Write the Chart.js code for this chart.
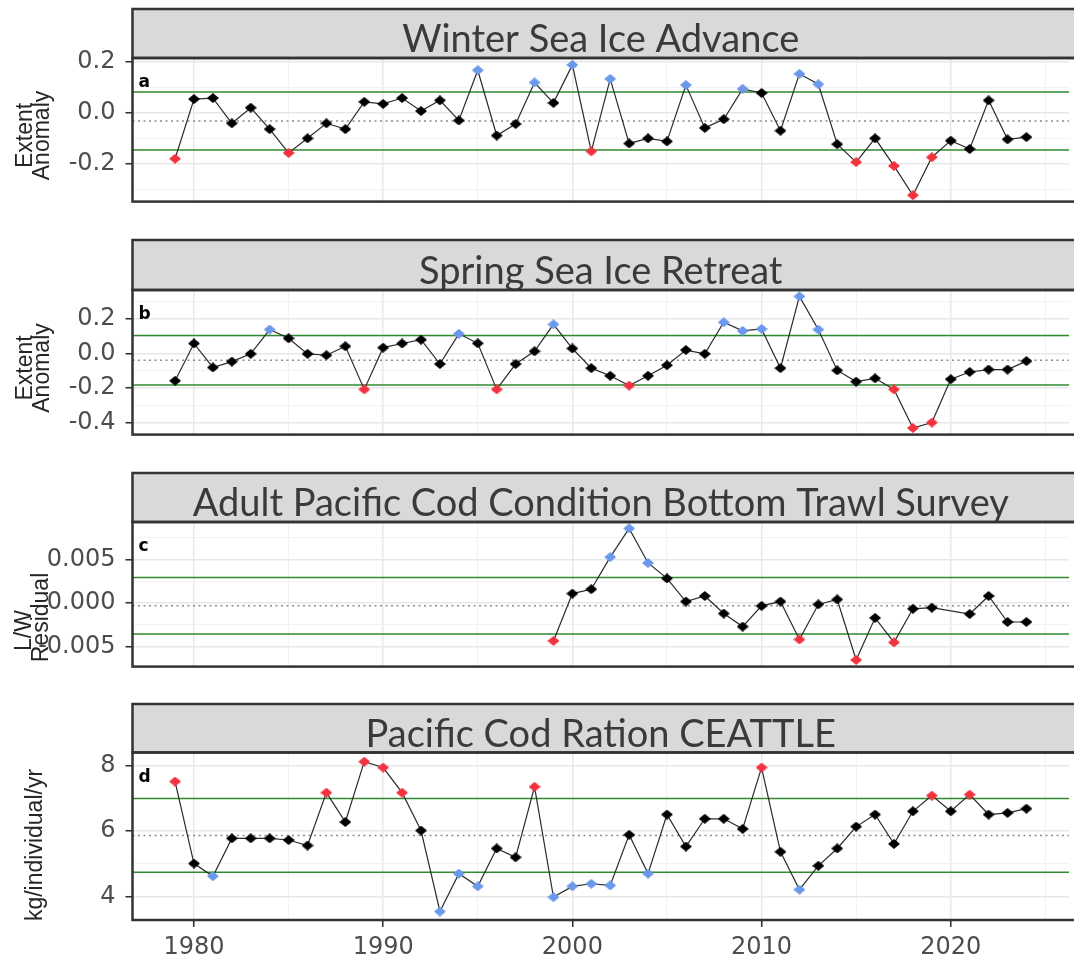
<!DOCTYPE html>
<html>
<head>
<meta charset="utf-8">
<script src="https://cdn.jsdelivr.net/npm/chart.js"></script>
<style>
  html, body { margin: 0; padding: 0; background: #ffffff; overflow: hidden; }
  #wrap { position: relative; width: 1074px; height: 960px; }
  #wrap canvas { position: absolute; left: 0; }
</style>
</head>
<body>
<div id="wrap"></div>
<script>
// ---- Survey years (one row per decade) ----
const years = [
  1979,
  1980, 1981, 1982, 1983, 1984, 1985, 1986, 1987, 1988, 1989,
  1990, 1991, 1992, 1993, 1994, 1995, 1996, 1997, 1998, 1999,
  2000, 2001, 2002, 2003, 2004, 2005, 2006, 2007, 2008, 2009,
  2010, 2011, 2012, 2013, 2014, 2015, 2016, 2017, 2018, 2019,
  2020, 2021, 2022, 2023, 2024
];
const yearTicks = [1980, 1990, 2000, 2010, 2020];

// ---- a: winter sea ice advance, extent anomaly ----
const winterAdvance = [
  -0.179,
  0.055, 0.059, -0.040, 0.021, -0.063, -0.156, -0.099, -0.040, -0.063, 0.044,
  0.036, 0.059, 0.008, 0.050, -0.029, 0.168, -0.088, -0.043, 0.120, 0.040,
  0.189, -0.150, 0.134, -0.119, -0.099, -0.111, 0.110, -0.058, -0.024, 0.095,
  0.079, -0.069, 0.154, 0.113, -0.122, -0.192, -0.099, -0.207, -0.322, -0.173,
  -0.108, -0.141, 0.050, -0.103, -0.094
];
const winterFlags = [
  'r',
  'k','k','k','k','k','r','k','k','k','k',
  'k','k','k','k','k','b','k','k','b','k',
  'b','r','b','k','k','k','b','k','k','b',
  'k','k','b','b','k','r','k','r','r','r',
  'k','k','k','k','k'
];
const winterMean = -0.031, winterSd = 0.114;
const winterTicks = [-0.2, 0.0, 0.2];

// ---- b: spring sea ice retreat, extent anomaly ----
const springRetreat = [
  -0.158,
  0.058, -0.081, -0.047, -0.002, 0.139, 0.088, -0.002, -0.010, 0.042, -0.208,
  0.034, 0.058, 0.080, -0.061, 0.114, 0.059, -0.208, -0.061, 0.013, 0.169,
  0.029, -0.085, -0.129, -0.186, -0.129, -0.068, 0.020, -0.002, 0.181, 0.131,
  0.142, -0.085, 0.331, 0.139, -0.098, -0.163, -0.144, -0.208, -0.432, -0.400,
  -0.149, -0.107, -0.093, -0.093, -0.044
];
const springFlags = [
  'k',
  'k','k','k','k','b','k','k','k','k','r',
  'k','k','k','k','b','k','r','k','k','b',
  'k','k','k','r','k','k','k','k','b','b',
  'b','k','b','b','k','k','k','r','r','r',
  'k','k','k','k','k'
];
const springMean = -0.039, springSd = 0.144;
const springTicks = [-0.4, -0.2, 0.0, 0.2];

// ---- c: adult Pacific cod condition (L/W residual), no survey in 2020 ----
const codCondition = [
  null,
  null, null, null, null, null, null, null, null, null, null,
  null, null, null, null, null, null, null, null, null, -0.00433,
  0.00109, 0.00159, 0.00527, 0.00855, 0.00460, 0.00283, 0.00018, 0.00082, -0.00119, -0.00269,
  -0.00032, 0.00018, -0.00416, -0.00015, 0.00042, -0.00651, -0.00169, -0.00450, -0.00065, -0.00052,
  null, -0.00125, 0.00082, -0.00216, -0.00216
];
const conditionFlags = [
  'k',
  'k','k','k','k','k','k','k','k','k','k',
  'k','k','k','k','k','k','k','k','k','r',
  'k','k','b','b','b','k','k','k','k','k',
  'k','k','r','k','k','r','k','r','k','k',
  'k','k','k','k','k'
];
const conditionMean = -0.0003, conditionSd = 0.00323;
const conditionTicks = [-0.005, 0.000, 0.005];

// ---- d: Pacific cod ration from CEATTLE, kg/individual/yr ----
const codRation = [
  7.52,
  5.01, 4.62, 5.78, 5.78, 5.78, 5.73, 5.56, 7.18, 6.28, 8.13,
  7.95, 7.18, 6.02, 3.54, 4.70, 4.31, 5.47, 5.20, 7.36, 3.98,
  4.31, 4.39, 4.34, 5.89, 4.70, 6.51, 5.53, 6.38, 6.38, 6.07,
  7.95, 5.37, 4.21, 4.94, 5.47, 6.14, 6.51, 5.61, 6.61, 7.09,
  6.61, 7.12, 6.51, 6.56, 6.69
];
const rationFlags = [
  'r',
  'k','b','k','k','k','k','k','r','k','r',
  'r','r','k','b','b','b','k','k','r','b',
  'b','b','b','k','b','k','k','k','k','k',
  'r','k','b','k','k','k','k','k','k','r',
  'k','r','k','k','k'
];
const rationMean = 5.87, rationSd = 1.13;
const rationTicks = [4, 6, 8];

// ---- styling ----
const POINT_COLORS = { k: '#000000', r: '#F2333F', b: '#6B98EA' };
const TICK_FONT = { family: "'DejaVu Sans', Verdana, sans-serif", size: 24 };
const TICK_COLOR = '#4D4D4D';
const STRIP_FONT = "38px Lato, 'Open Sans', sans-serif";
const FRAME = '#333333';
const PAGE_W = 1074;

// filled diamond markers, a little wider than tall
function diamond(color, w, h) {
  const c = document.createElement('canvas');
  c.width = w; c.height = h;
  const g = c.getContext('2d');
  g.fillStyle = color;
  g.beginPath();
  g.moveTo(w / 2, 0); g.lineTo(w, h / 2); g.lineTo(w / 2, h); g.lineTo(0, h / 2);
  g.closePath();
  g.fill();
  return c;
}
const DIAMONDS = {
  k: diamond(POINT_COLORS.k, 12, 10),
  r: diamond(POINT_COLORS.r, 12, 10),
  b: diamond(POINT_COLORS.b, 12, 10)
};

const panels = [
  { letter: 'a', title: 'Winter Sea Ice Advance', values: winterAdvance, flags: winterFlags,
    mean: winterMean, sd: winterSd, ticks: winterTicks, decimals: 1, step: 0.1,
    yMin: -0.347, yMax: 0.216,
    stripTop: 8.5, plotTop: 57.5, plotBottom: 221.5,
    yTitle: [{ text: 'Extent', x: 26, y: 135 }, { text: 'Anomaly', x: 43, y: 135 }] },
  { letter: 'b', title: 'Spring Sea Ice Retreat', values: springRetreat, flags: springFlags,
    mean: springMean, sd: springSd, ticks: springTicks, decimals: 1, step: 0.1,
    yMin: -0.470, yMax: 0.368,
    stripTop: 240, plotTop: 290, plotBottom: 455,
    yTitle: [{ text: 'Extent', x: 26, y: 368 }, { text: 'Anomaly', x: 43, y: 368 }] },
  { letter: 'c', title: 'Adult Pacific Cod Condition Bottom Trawl Survey', values: codCondition, flags: conditionFlags,
    mean: conditionMean, sd: conditionSd, ticks: conditionTicks, decimals: 3, step: 0.0025,
    yMin: -0.00727, yMax: 0.00929,
    stripTop: 472.5, plotTop: 521.5, plotBottom: 686.5,
    yTitle: [{ text: 'L/W', x: 25, y: 630 }, { text: 'Residual', x: 42, y: 617 }] },
  { letter: 'd', title: 'Pacific Cod Ration CEATTLE', values: codRation, flags: rationFlags,
    mean: rationMean, sd: rationSd, ticks: rationTicks, decimals: 0, step: 1,
    yMin: 3.28, yMax: 8.41,
    stripTop: 704, plotTop: 752.5, plotBottom: 920, xAxis: true,
    yTitle: [{ text: 'kg/individual/yr', x: 36, y: 845 }] }
];

function matchTick(list, v, tol) {
  for (const t of list) if (Math.abs(t - v) < tol) return t;
  return null;
}

function decorPlugin(p, canvasTop) {
  return {
    id: 'panelDecor',
    beforeDatasetsDraw(chart) {
      const { ctx, chartArea: a, scales: { y } } = chart;
      ctx.save();
      ctx.beginPath();
      ctx.rect(a.left, a.top, a.right - a.left, a.bottom - a.top);
      ctx.clip();
      // long-term mean (dotted) and +/- 1 SD (green)
      const ym = y.getPixelForValue(p.mean);
      ctx.strokeStyle = '#8A8A8A';
      ctx.lineWidth = 1.5;
      ctx.setLineDash([2, 3.5]);
      ctx.beginPath(); ctx.moveTo(a.left, ym); ctx.lineTo(a.right, ym); ctx.stroke();
      ctx.setLineDash([]);
      ctx.strokeStyle = '#2E8B2E';
      ctx.lineWidth = 1.5;
      for (const v of [p.mean + p.sd, p.mean - p.sd]) {
        const yy = y.getPixelForValue(v);
        ctx.beginPath(); ctx.moveTo(a.left, yy); ctx.lineTo(a.right, yy); ctx.stroke();
      }
      ctx.restore();
    },
    afterDraw(chart) {
      const { ctx, chartArea: a } = chart;
      const stripY = p.stripTop - canvasTop;
      ctx.save();
      // facet strip
      ctx.fillStyle = '#D9D9D9';
      ctx.fillRect(a.left, stripY, PAGE_W - a.left + 10, a.top - stripY);
      ctx.strokeStyle = FRAME;
      ctx.lineWidth = 2.5;
      ctx.strokeRect(a.left, stripY, PAGE_W - a.left + 10, a.top - stripY);
      // strip title
      ctx.font = STRIP_FONT;
      ctx.fillStyle = '#3A3A3A';
      ctx.textAlign = 'center';
      ctx.textBaseline = 'alphabetic';
      ctx.fillText(p.title, (a.left + a.right) / 2, a.top - 6);
      // panel frame
      ctx.strokeStyle = FRAME;
      ctx.lineWidth = 2.5;
      ctx.strokeRect(a.left, a.top, PAGE_W - a.left + 10, a.bottom - a.top);
      // panel letter
      ctx.font = "bold 17px 'DejaVu Sans', Verdana, sans-serif";
      ctx.fillStyle = '#000000';
      ctx.textAlign = 'left';
      ctx.textBaseline = 'middle';
      ctx.fillText(p.letter, a.left + 6, a.top + 25);
      // y-axis title
      ctx.font = "23px 'Liberation Sans', Arial, sans-serif";
      ctx.fillStyle = '#262626';
      ctx.textAlign = 'center';
      for (const t of p.yTitle) {
        ctx.save();
        ctx.translate(t.x, t.y - canvasTop);
        ctx.rotate(-Math.PI / 2);
        ctx.fillText(t.text, 0, 0);
        ctx.restore();
      }
      ctx.restore();
    }
  };
}

function buildPanel(p) {
  const wrap = document.getElementById('wrap');
  const canvasTop = p.stripTop - 4;
  const canvasBottom = p.xAxis ? 960 : p.plotBottom + 4;
  const canvas = document.createElement('canvas');
  canvas.width = PAGE_W;
  canvas.height = canvasBottom - canvasTop;
  canvas.style.top = canvasTop + 'px';
  canvas.style.width = PAGE_W + 'px';
  canvas.style.height = (canvasBottom - canvasTop) + 'px';
  wrap.appendChild(canvas);

  const points = years.map((yr, i) => ({ x: yr, y: p.values[i] }));
  const colors = p.flags.map(f => POINT_COLORS[f]);
  const markers = p.flags.map(f => DIAMONDS[f]);
  const yTol = p.step / 4;

  new Chart(canvas, {
    type: 'line',
    data: {
      datasets: [{
        data: points,
        borderColor: '#2B2B2B',
        borderWidth: 1.2,
        tension: 0,
        spanGaps: true,
        pointStyle: markers,
        pointRadius: 5,
        pointBackgroundColor: colors,
        pointBorderColor: colors,
        pointBorderWidth: 0
      }]
    },
    options: {
      responsive: false,
      animation: false,
      devicePixelRatio: 1,
      events: [],
      layout: { padding: { top: p.plotTop - canvasTop, bottom: p.xAxis ? 0 : 4, left: 0, right: 0 } },
      plugins: { legend: { display: false }, tooltip: { enabled: false } },
      scales: {
        x: {
          type: 'linear',
          min: 1976.75,
          max: 2026.25,
          afterFit: s => { s.height = p.xAxis ? 40 : 0; },
          border: { display: false },
          grid: {
            color: c => (matchTick(yearTicks, c.tick.value, 0.5) !== null ? '#E8E8E8' : '#F1F1F1'),
            lineWidth: c => (matchTick(yearTicks, c.tick.value, 0.5) !== null ? 1.5 : 0.9),
            drawTicks: !!p.xAxis,
            tickLength: 7,
            tickWidth: 1.6,
            tickColor: c => (matchTick(yearTicks, c.tick.value, 0.5) !== null ? FRAME : 'rgba(0,0,0,0)')
          },
          ticks: {
            display: !!p.xAxis,
            stepSize: 5,
            includeBounds: false,
            autoSkip: false,
            maxRotation: 0,
            padding: 6,
            font: TICK_FONT,
            color: TICK_COLOR,
            callback: v => { const t = matchTick(yearTicks, v, 0.5); return t === null ? '' : String(t); }
          }
        },
        y: {
          type: 'linear',
          min: p.yMin,
          max: p.yMax,
          afterFit: s => { s.width = 132.5; },
          border: { display: false },
          grid: {
            color: c => (matchTick(p.ticks, c.tick.value, yTol) !== null ? '#E8E8E8' : '#F1F1F1'),
            lineWidth: c => (matchTick(p.ticks, c.tick.value, yTol) !== null ? 1.5 : 0.9),
            drawTicks: true,
            tickLength: 7,
            tickWidth: 1.6,
            tickColor: c => (matchTick(p.ticks, c.tick.value, yTol) !== null ? FRAME : 'rgba(0,0,0,0)')
          },
          ticks: {
            stepSize: p.step,
            includeBounds: false,
            autoSkip: false,
            padding: 10,
            font: TICK_FONT,
            color: TICK_COLOR,
            callback: v => {
              const t = matchTick(p.ticks, v, yTol);
              return t === null ? '' : (Math.abs(t) < 1e-12 ? 0 : t).toFixed(p.decimals);
            }
          }
        }
      }
    },
    plugins: [decorPlugin(p, canvasTop)]
  });
}

const ready = (document.fonts && document.fonts.load)
  ? Promise.all([
      document.fonts.load(STRIP_FONT),
      document.fonts.load("24px 'DejaVu Sans'"),
      document.fonts.load("23px 'Liberation Sans'")
    ]).catch(() => null)
  : Promise.resolve();
ready.then(() => panels.forEach(buildPanel));
</script>
</body>
</html>
